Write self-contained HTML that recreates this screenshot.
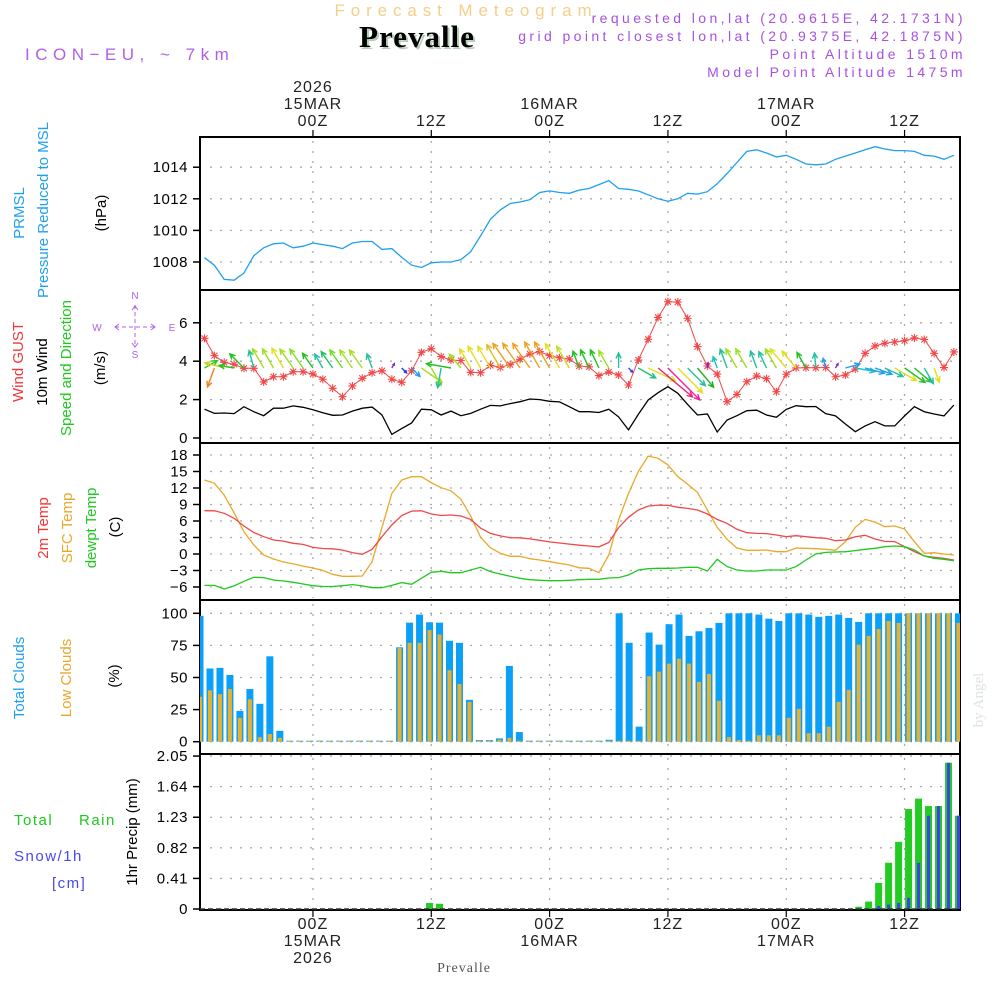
<!DOCTYPE html>
<html><head><meta charset="utf-8">
<style>
html,body{margin:0;padding:0;background:#fff;}
svg{display:block;font-family:"Liberation Sans",sans-serif;}
</style></head>
<body>
<svg id="chart" width="1000" height="1000" viewBox="0 0 1000 1000" xmlns="http://www.w3.org/2000/svg">
<defs>
<clipPath id="c1"><rect x="200" y="137" width="760" height="153"/></clipPath>
<clipPath id="c2"><rect x="200" y="290" width="760" height="153"/></clipPath>
<clipPath id="c3"><rect x="200" y="443" width="760" height="157"/></clipPath>
<clipPath id="c4"><rect x="200" y="600" width="760" height="154"/></clipPath>
<clipPath id="c5"><rect x="200" y="754" width="760" height="156"/></clipPath>
</defs>
<text x="466" y="16" text-anchor="middle" font-size="17" letter-spacing="5.9" fill="#f5cf8a">Forecast Meteogram</text>
<text x="419" y="49" text-anchor="middle" font-family="Liberation Serif,serif" font-weight="bold" font-size="31" letter-spacing="1" fill="#b8cdb8">Prevalle</text>
<text x="417" y="47" text-anchor="middle" font-family="Liberation Serif,serif" font-weight="bold" font-size="31" letter-spacing="1" fill="#000">Prevalle</text>
<text x="25" y="60" font-size="17" letter-spacing="5.5" fill="#b060e8">ICON−EU, ~ 7km</text>
<g font-size="14" letter-spacing="3.4" fill="#a850e0" text-anchor="end">
<text x="966" y="23">requested lon,lat (20.9615E, 42.1731N)</text>
<text x="966" y="41">grid point closest lon,lat (20.9375E, 42.1875N)</text>
<text x="966" y="59">Point Altitude 1510m</text>
<text x="966" y="77">Model Point Altitude 1475m</text>
</g>
<g id="axes"></g>
<g id="marks"></g>
<g font-size="15">
<text transform="translate(24,213) rotate(-90)" text-anchor="middle" fill="#1ea0f0">PRMSL</text>
<text transform="translate(48,210) rotate(-90)" text-anchor="middle" fill="#1ea0f0">Pressure Reduced to MSL</text>
<text transform="translate(106,213) rotate(-90)" text-anchor="middle" fill="#000">(hPa)</text>
<text transform="translate(23,362) rotate(-90)" text-anchor="middle" fill="#f03838">Wind GUST</text>
<text transform="translate(47,372) rotate(-90)" text-anchor="middle" fill="#000">10m Wind</text>
<text transform="translate(71,368) rotate(-90)" text-anchor="middle" fill="#20c820">Speed and Direction</text>
<text transform="translate(105,368) rotate(-90)" text-anchor="middle" fill="#000">(m/s)</text>
<text transform="translate(48,528) rotate(-90)" text-anchor="middle" fill="#f03838">2m Temp</text>
<text transform="translate(72,528) rotate(-90)" text-anchor="middle" fill="#e8a828">SFC Temp</text>
<text transform="translate(96,528) rotate(-90)" text-anchor="middle" fill="#20c820">dewpt Temp</text>
<text transform="translate(120,527) rotate(-90)" text-anchor="middle" fill="#000">(C)</text>
<text transform="translate(24,678) rotate(-90)" text-anchor="middle" fill="#1ea0f0">Total Clouds</text>
<text transform="translate(71,678) rotate(-90)" text-anchor="middle" fill="#e8a828">Low Clouds</text>
<text transform="translate(119,676) rotate(-90)" text-anchor="middle" fill="#000">(%)</text>
<text transform="translate(137,832) rotate(-90)" text-anchor="middle" fill="#000">1hr Precip (mm)</text>
<text x="14" y="825" fill="#20c820" letter-spacing="1.5">Total</text>
<text x="79" y="825" fill="#20c820" letter-spacing="1.5">Rain</text>
<text x="14" y="861" fill="#4848f0" letter-spacing="1.5">Snow/1h</text>
<text x="52" y="888" fill="#4848f0" letter-spacing="1.5">[cm]</text>
</g>
<g fill="#b060e8" stroke="#b060e8" font-size="10">
<text x="135" y="299" stroke="none" text-anchor="middle">N</text>
<text x="135" y="358" stroke="none" text-anchor="middle">S</text>
<text x="97" y="331" stroke="none" text-anchor="middle">W</text>
<text x="172" y="331" stroke="none" text-anchor="middle">E</text>
<line x1="135" y1="305" x2="135" y2="347" stroke-dasharray="4,3"/>
<line x1="115" y1="327" x2="155" y2="327" stroke-dasharray="4,3"/>
<polyline points="132,310 135,306 138,310" fill="none"/>
<polyline points="132,343 135,347 138,343" fill="none"/>
<polyline points="119,324 115,327 119,330" fill="none"/>
<polyline points="151,324 155,327 151,330" fill="none"/>
</g>
<text x="464" y="972" text-anchor="middle" font-family="Liberation Serif,serif" font-size="14" letter-spacing="1" fill="#555">Prevalle</text>
<text transform="translate(983,700) rotate(-90)" text-anchor="middle" font-family="Liberation Serif,serif" font-size="15" fill="#dde4dd">by Angel</text>
</svg>
<script>
const pressure=[1008.27,1007.8,1006.9,1006.85,1007.3,1008.4,1008.9,1009.15,1009.2,1008.9,1009.0,1009.2,1009.1,1009.0,1008.85,1009.2,1009.3,1009.3,1008.8,1008.85,1008.3,1007.8,1007.65,1007.95,1008.0,1008.0,1008.15,1008.65,1009.65,1010.7,1011.3,1011.7,1011.8,1011.95,1012.4,1012.5,1012.4,1012.35,1012.55,1012.65,1012.9,1013.15,1012.65,1012.6,1012.5,1012.25,1012.0,1011.85,1012.0,1012.35,1012.3,1012.45,1012.95,1013.6,1014.3,1015.0,1015.1,1014.9,1014.65,1014.75,1014.5,1014.2,1014.15,1014.2,1014.5,1014.7,1014.9,1015.1,1015.3,1015.15,1015.05,1015.05,1015.0,1014.75,1014.7,1014.5,1014.75];
const wind10m=[1.5,1.28,1.3,1.27,1.63,1.37,1.16,1.55,1.55,1.67,1.6,1.47,1.32,1.18,1.2,1.4,1.55,1.61,1.2,0.19,0.49,0.78,1.5,1.47,1.2,1.4,1.16,1.28,1.5,1.7,1.67,1.79,1.89,2.03,2.0,1.91,1.88,1.63,1.37,1.37,1.33,1.5,1.1,0.42,1.23,1.98,2.36,2.67,2.33,1.75,1.2,1.25,0.31,0.94,1.16,1.42,1.45,1.2,1.08,1.49,1.68,1.63,1.64,1.27,1.15,0.73,0.33,0.63,0.85,0.63,0.63,1.15,1.63,1.37,1.25,1.15,1.72];
const gust=[5.19,4.29,3.94,3.84,3.63,3.63,2.92,3.19,3.19,3.45,3.45,3.33,3.06,2.59,2.15,2.71,3.11,3.4,3.5,3.06,2.9,3.5,4.46,4.65,4.24,4.06,4.03,3.42,3.4,3.78,3.68,3.82,4.1,4.38,4.5,4.29,4.18,4.12,3.75,3.71,3.25,3.44,3.28,2.76,4.06,5.14,6.28,7.1,7.08,6.23,4.76,3.75,3.33,1.89,2.27,2.93,3.23,3.09,2.41,3.32,3.65,3.66,3.66,3.67,3.19,3.28,3.59,4.41,4.79,4.93,5.0,5.07,5.21,5.13,4.41,3.67,4.48];
const windDir=[30,250,165,170,135,105,120,120,120,125,125,125,120,125,125,125,125,110,90,60,-45,-45,-35,-60,-100,170,130,120,120,120,120,125,125,125,120,120,120,120,110,115,115,120,90,-45,-30,-25,-40,-45,-45,-45,-50,80,110,110,120,120,110,115,120,130,130,120,95,105,60,15,-10,-15,-20,-25,-30,-35,-40,-60,-70,-60,-60];
const windLen=[15,20,20,15,20,18,22,22,23,23,23,18,16,20,22,22,22,15,0,5,7,12,25,20,20,25,18,22,25,25,27,30,30,30,30,30,28,25,18,20,20,20,15,6,20,30,45,45,35,25,25,5,12,20,22,22,18,18,22,25,22,18,15,10,5,15,20,20,18,20,25,25,22,18,15,0,0];
const windColor=["#20d020","#f08020","#d0d020","#20c020","#20c020","#20c0a0","#a0e020","#a0e020","#e0e020","#a0e020","#80e020","#20c020","#20c0a0","#20c060","#60e020","#a0e020","#a0e020","#20c0a0","#20c0a0","#8020e0","#2040f0","#20a0f0","#a0e020","#a0e020","#20c0a0","#20c020","#a0e020","#e0e020","#e0e020","#e0e020","#e0c020","#f0a020","#f0a020","#f0a020","#f0a020","#f0a020","#e0e020","#c0e020","#20c020","#20c020","#20c020","#a0e020","#20c0a0","#4040f0","#20c080","#e0e020","#f02070","#f020a0","#e0e020","#20c0a0","#20b020","#8020e0","#20c0c0","#20c0a0","#a0e020","#a0e020","#20c0a0","#20c0a0","#a0e020","#e0e020","#e0e020","#20c020","#20c0a0","#20a0f0","#8020e0","#20a0f0","#20c0d0","#20a0f0","#20a0f0","#20c0a0","#e0e020","#20c020","#20c020","#20c0a0","#e0e020","#e0e020","#e0e020"];
const temp2m=[7.88,7.85,7.4,6.5,5.1,3.9,3.15,2.55,2.35,1.94,1.75,1.2,1.0,0.95,0.7,0.25,-0.05,0.85,3.15,5.27,7.0,7.8,7.85,7.27,7.0,7.1,6.9,6.3,4.7,3.75,3.3,2.97,2.95,2.75,2.5,2.2,2.0,1.8,1.6,1.45,1.3,2.1,4.8,6.67,8.0,8.7,8.9,8.85,8.5,8.3,8.0,7.27,6.3,5.57,4.5,3.88,3.75,3.7,3.45,3.15,3.33,3.15,2.97,2.85,2.42,2.55,3.15,3.4,2.73,2.3,2.25,1.33,0.42,-0.36,-0.6,-0.8,-1.1];
const tempSfc=[13.45,12.85,10.7,7.5,4.06,1.64,-0.18,-0.9,-1.45,-1.8,-2.2,-2.55,-3.0,-3.7,-4.06,-4.06,-4.0,-1.4,4.85,11.0,13.45,14.06,14.06,12.97,12.06,11.5,9.94,6.9,3.03,1.15,0.12,-0.42,-0.42,-0.85,-1.1,-1.4,-1.7,-2.0,-2.5,-2.6,-3.4,-0.18,6.18,11.0,15.0,17.8,17.4,16.2,14.06,12.7,11.2,8.0,4.85,2.67,1.09,0.67,0.67,0.73,0.42,0.42,1.09,1.03,0.97,0.85,0.67,2.24,4.85,6.3,5.82,4.97,5.1,4.55,2.24,0.12,0.24,0,-0.18];
const dewpt=[-5.7,-5.7,-6.36,-5.8,-4.97,-4.24,-4.3,-4.73,-4.9,-5.15,-5.45,-5.76,-5.9,-5.9,-5.76,-5.57,-5.8,-6.12,-6.12,-5.7,-5.2,-5.5,-4.42,-3.33,-3.15,-3.4,-3.4,-2.9,-2.42,-3.2,-3.64,-4.06,-4.42,-4.67,-4.79,-4.85,-4.85,-4.79,-4.67,-4.6,-4.6,-4.36,-4.3,-3.82,-2.9,-2.67,-2.6,-2.6,-2.55,-2.42,-2.42,-3.1,-0.97,-2.3,-2.9,-3.1,-3.1,-2.9,-2.9,-2.9,-2.3,-1.1,0,0.3,0.36,0.42,0.61,0.85,1.03,1.33,1.45,1.33,0.73,-0.36,-0.79,-0.97,-1.21];
const cloudTotal=[98,57,57.5,52,24,41,29.5,66.5,8.5,0,0,0,0,0,0,0,0,0,0,0,73.5,92.7,99,93,92.7,78.6,77,32.6,1.3,1.3,2.6,59,7.5,0,0,0,0,0,0,0,0,1.5,100,77,11.7,85,75.6,91.5,99,82.4,86,88.6,92.5,100,100,100,99,95.8,94,100,100,99,97.2,98,99,96.4,93.3,100,100,100,100,100,100,100,100,100,100];
const cloudLow=[35,40,37,41,18.5,33,3.5,6,3,0,0,0,0,0,0,0,0,0,0,0,73,77,77,87,83.5,55.6,45,31,1,1,1.6,3,0,0,0,0,0,0,0,0,0,0.5,0.5,0.5,0.5,51,54.6,60.8,64.6,60.8,46.6,52.8,31.8,3.6,1.3,0.5,5,5,5,18.6,25.6,6.6,6.6,11.7,31,40.4,75.6,82.4,87.8,94,92.5,100,100,100,100,100,92.5];
const rain=[0,0,0,0,0,0,0,0,0,0,0,0,0,0,0,0,0,0,0,0,0,0,0,0.08,0.07,0,0,0,0,0,0,0,0,0,0,0,0,0,0,0,0,0,0,0,0,0,0,0,0,0,0,0,0,0,0,0,0,0,0,0,0,0,0,0,0,0,0.03,0.1,0.35,0.62,0.9,1.34,1.48,1.38,1.38,1.96,1.25];
const snow=[0,0,0,0,0,0,0,0,0,0,0,0,0,0,0,0,0,0,0,0,0,0,0,0,0,0,0,0,0,0,0,0,0,0,0,0,0,0,0,0,0,0,0,0,0,0,0,0,0,0,0,0,0,0,0,0,0,0,0,0,0,0,0,0,0,0,0,0,0.04,0.06,0.08,0.15,0.62,1.25,1.38,1.96,1.25];
const timeTickHours=[11,23,35,47,59,71];
const timeTickTop=[["2026","15MAR","00Z"],["","","12Z"],["","16MAR","00Z"],["","","12Z"],["","17MAR","00Z"],["","","12Z"]];
const timeTickBottom=[["00Z","15MAR","2026"],["12Z","",""],["00Z","16MAR",""],["12Z","",""],["00Z","17MAR",""],["12Z","",""]];
const pTicks=[1008,1010,1012,1014];
const wTicks=[0,2,4,6];
const tTicks=[-6,-3,0,3,6,9,12,15,18];
const cTicks=[0,25,50,75,100];
const rTicks=[0,0.41,0.82,1.23,1.64,2.05];
const rTickLabels=["0","0.41","0.82","1.23","1.64","2.05"];

const NS="http://www.w3.org/2000/svg";
const xT=k=>204.5+k*9.86;
const xB=j=>200+j*9.98;
const yP=v=>262-(v-1008)*15.8;
const yW=v=>438-v*19.2;
const yT=v=>554-v*5.5;
const yC=v=>741.7-v*1.284;
const yR=v=>909-v*74.6;
const axes=document.getElementById('axes');
const marks=document.getElementById('marks');
function mk(tag,attrs,parent){const e=document.createElementNS(NS,tag);for(const a in attrs)e.setAttribute(a,attrs[a]);(parent||marks).appendChild(e);return e;}

const panels=[[137,290,pTicks,yP,v=>String(v),'pressure'],[290,443,wTicks,yW,v=>String(v),'wind'],[443,600,tTicks,yT,v=>String(v).replace('-','−'),'temperature'],[600,754,cTicks,yC,v=>String(v),'clouds'],[754,910,rTicks,yR,(v,i)=>rTickLabels[i],'precip']];
panels.forEach(p=>{
  const [top,bot,ticks,sc,fmt,nm]=p;
  ticks.forEach((t,i)=>{
    const y=sc(t);
    const g=mk('line',{x1:210,x2:958,y1:y,y2:y,stroke:'#aaa','stroke-width':1.3,'stroke-dasharray':'2,8'},axes);
    
    
    const tk=mk('line',{x1:193,x2:200,y1:y,y2:y,stroke:'#000','stroke-width':1.5},axes);
    
    
    const lb=mk('text',{x:188,y:y+5,'text-anchor':'end','font-size':15,fill:'#000','letter-spacing':'0.5'},axes);
    lb.textContent=fmt(t,i);
    
    
  });
  timeTickHours.forEach(h=>{
    const x=xT(h);
    const v=mk('line',{x1:x,x2:x,y1:top+4,y2:bot-2,stroke:'#aaa','stroke-width':1.3,'stroke-dasharray':'2,8'},axes);
    
    
  });
  const fr=mk('rect',{x:200,y:top,width:760,height:bot-top,fill:'none',stroke:'#000','stroke-width':2},axes);
  
  
});
timeTickHours.forEach((h,i)=>{
  const x=xT(h);
  mk('line',{x1:x,x2:x,y1:130,y2:137,stroke:'#000','stroke-width':1.2},axes);
  mk('line',{x1:x,x2:x,y1:910,y2:917,stroke:'#000','stroke-width':1.2},axes);
  timeTickTop[i].forEach((s,r)=>{ if(!s)return;
    const t=mk('text',{x:x,y:92+r*17,'text-anchor':'middle','font-size':16,fill:'#222','letter-spacing':'1'},axes);
    t.textContent=s;
    
    
  });
  timeTickBottom[i].forEach((s,r)=>{ if(!s)return;
    const t=mk('text',{x:x,y:929+r*17,'text-anchor':'middle','font-size':16,fill:'#222','letter-spacing':'1'},axes);
    t.textContent=s;
    
    
  });
});

function line(arr,sc,color,name,clip,w){
  const pts=arr.map((v,k)=>xT(k).toFixed(1)+','+sc(v).toFixed(1)).join(' ');
  const l=mk('polyline',{points:pts,fill:'none',stroke:color,'stroke-width':w||1.3,'clip-path':'url(#'+clip+')'});
  
  
}
line(pressure,yP,'#1ea0f0','pressure-line','c1');
line(wind10m,yW,'#000','wind-10m-line','c2');
line(gust,yW,'#f04848','wind-gust-line','c2',1);
gust.forEach((v,k)=>{
  const x=xT(k),y=yW(v);
  const g=mk('path',{d:`M${x-4},${y}H${x+4}M${x},${y-4}V${y+4}M${x-3},${y-3}L${x+3},${y+3}M${x-3},${y+3}L${x+3},${y-3}`,stroke:'#f04848','stroke-width':1.1,'clip-path':'url(#c2)'});
  
  
});
windDir.forEach((d,k)=>{
  const L=windLen[k]; if(!L)return;
  const x0=xT(k),y0=368,a=d*Math.PI/180;
  const x1=x0+L*Math.cos(a),y1=y0-L*Math.sin(a);
  const h=Math.min(6,L*0.45);
  const p=`M${x0.toFixed(1)},${y0}L${x1.toFixed(1)},${y1.toFixed(1)}M${(x1-h*Math.cos(a-0.45)).toFixed(1)},${(y1+h*Math.sin(a-0.45)).toFixed(1)}L${x1.toFixed(1)},${y1.toFixed(1)}L${(x1-h*Math.cos(a+0.45)).toFixed(1)},${(y1+h*Math.sin(a+0.45)).toFixed(1)}`;
  const ar=mk('path',{d:p,fill:'none',stroke:windColor[k],'stroke-width':1.4,'clip-path':'url(#c2)'});
  
  
});
line(tempSfc,yT,'#e8a828','sfc-temp-line','c3');
line(temp2m,yT,'#f04848','2m-temp-line','c3');
line(dewpt,yT,'#20c820','dewpoint-line','c3');
cloudTotal.forEach((v,j)=>{
  const x=xB(j),y=yC(v);
  const b=mk('rect',{x:x-3.5,y:Math.min(y,740.7),width:7,height:Math.max(741.7-y,1),fill:'#0aa0f8','clip-path':'url(#c4)'});
  
  
});
cloudLow.forEach((v,j)=>{
  const x=xB(j),y=yC(v);
  const b=mk('rect',{x:x-2,y:Math.min(y,740.7),width:4,height:Math.max(741.7-y,1),fill:'#e8b030','clip-path':'url(#c4)'});
  
  
});
rain.forEach((v,j)=>{
  if(v<=0)return;
  const x=xB(j),y=yR(v);
  const b=mk('rect',{x:x-3.5,y:y,width:7,height:909-y,fill:'#22cc22','clip-path':'url(#c5)'});
  
  
});
snow.forEach((v,j)=>{
  if(v<=0)return;
  const x=xB(j),y=yR(v);
  const b=mk('rect',{x:x-1.5,y:y,width:3,height:909-y,fill:'#4040f0','clip-path':'url(#c5)'});
  
  
});
mk('line',{x1:200,x2:960,y1:909,y2:909,stroke:'#333','stroke-width':1.5,'stroke-dasharray':'5,3'});
</script>
</body></html>
